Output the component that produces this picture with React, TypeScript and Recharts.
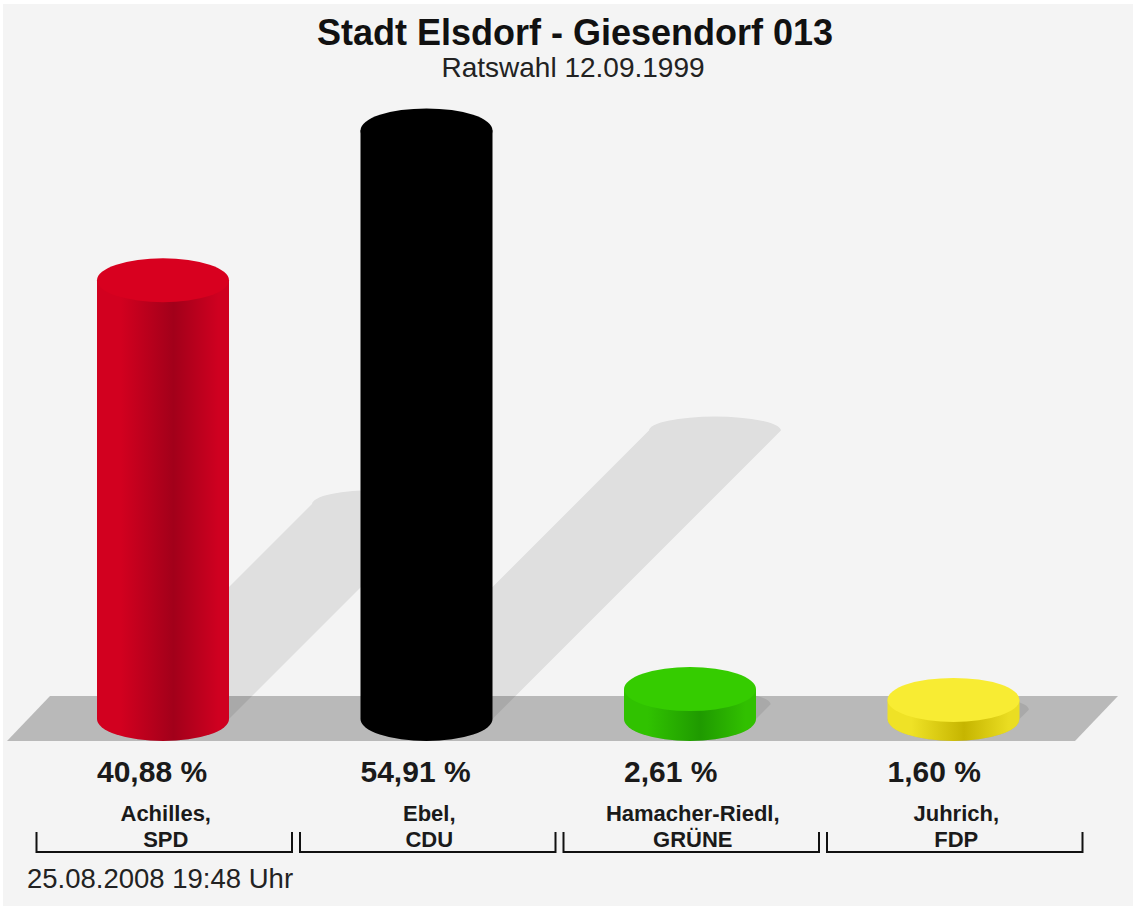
import React from "react";
import { BarChart, Bar, XAxis, YAxis } from "recharts";

const TITLE = "Stadt Elsdorf - Giesendorf 013";
const SUBTITLE = "Ratswahl 12.09.1999";
const FOOTER = "25.08.2008 19:48 Uhr";

const CANDIDATES = ["Achilles,", "Ebel,", "Hamacher-Riedl,", "Juhrich,"];
const PARTIES = ["SPD", "CDU", "GRÜNE", "FDP"];
const VALUES = [40.88, 54.91, 2.61, 1.6];
const VALUE_LABELS = ["40,88 %", "54,91 %", "2,61 %", "1,60 %"];

// [left, dark, right, top]
const COLORS = [
  ["#d2001f", "#a2001a", "#cf0020", "#d8001f"],
  ["#000000", "#000000", "#000000", "#000000"],
  ["#30c200", "#1f9a00", "#31c000", "#35cc00"],
  ["#efe226", "#c6b500", "#eadd22", "#f8ec33"],
];

const W = 1133;
const H = 906;
const MARGIN = { top: 76, right: 48, left: 31, bottom: 189 };
const PLOT_L = MARGIN.left;
const PLOT_R = W - MARGIN.right;
const BAND = (PLOT_R - PLOT_L) / CANDIDATES.length;
const FONT = "'Liberation Sans', Arial, Helvetica, sans-serif";

const data = CANDIDATES.map((c, i) => ({
  name: c,
  party: PARTIES[i],
  value: VALUES[i],
  label: VALUE_LABELS[i],
}));

function CylinderShape(props: any) {
  const { x, y, width: w, height: h, index } = props;
  const i = index ?? 0;
  const p = data[i];
  const c = COLORS[i];
  const base = y + h;
  const yb = base + 2;
  const yt = y;
  const rx = w / 2;
  const ry = 22;
  const cx = x + rx;
  const Ht = yb - yt;
  const D = 0.49 * Ht;
  const sry = 14;
  const shadow = `M ${x} ${yb} L ${x + D} ${yb - D} A ${rx} ${sry} 0 0 1 ${x + w + D} ${yb - D} L ${x + w} ${yb} A ${rx} ${ry} 0 0 1 ${x} ${yb} Z`;
  const body = `M ${x} ${yt} L ${x} ${yb} A ${rx} ${ry} 0 0 0 ${x + w} ${yb} L ${x + w} ${yt} Z`;
  const gid = `cyl-grad-${i}`;
  const bc = PLOT_L + BAND * i + BAND / 2;
  const half = BAND / 2 - 4;
  return (
    <g>
      <defs>
        <linearGradient id={gid} x1="0" y1="0" x2="1" y2="0">
          <stop offset="0%" stopColor={c[0]} />
          <stop offset="18%" stopColor={c[0]} />
          <stop offset="58%" stopColor={c[1]} />
          <stop offset="92%" stopColor={c[2]} />
          <stop offset="100%" stopColor={c[2]} />
        </linearGradient>
      </defs>
      {i === 0 && (
        <polygon
          points={`${PLOT_L + 19},${yb - 23} ${PLOT_R + 33},${yb - 23} ${PLOT_R - 10},${yb + 22} ${PLOT_L - 24},${yb + 22}`}
          fill="#b9b9b9"
        />
      )}
      <path d={shadow} fill="rgba(0,0,0,0.085)" />
      <path d={body} fill={`url(#${gid})`} />
      <ellipse cx={cx} cy={yt} rx={rx} ry={ry} fill={c[3]} />
      <text x={x} y={yb + 63} fontFamily={FONT} fontSize={30} fontWeight="bold" fill="#1a1a1a">
        {p.label}
      </text>
      <text x={bc + 3} y={yb + 102} textAnchor="middle" fontFamily={FONT} fontSize={22} fontWeight="bold" fill="#1a1a1a">
        {p.name}
      </text>
      <text x={bc + 3} y={yb + 128} textAnchor="middle" fontFamily={FONT} fontSize={22} fontWeight="bold" fill="#1a1a1a">
        {p.party}
      </text>
      <polyline
        points={`${bc + 1.5 - half},${yb + 113} ${bc + 1.5 - half},${yb + 133} ${bc + 1.5 + half},${yb + 133} ${bc + 1.5 + half},${yb + 113}`}
        fill="none"
        stroke="#111"
        strokeWidth={2}
      />
    </g>
  );
}

export default function App() {
  return (
    <div style={{ position: "absolute", left: 0, top: 0, width: W, height: H, background: "#ffffff" }}>
      <div style={{ position: "absolute", left: 3, top: 4, width: W - 3, height: H - 4, background: "#f4f4f4" }} />
      <div style={{ position: "absolute", left: 0, top: 0 }}>
        <BarChart width={W} height={H} data={data} margin={MARGIN} barSize={132}>
          <XAxis dataKey="name" hide />
          <YAxis type="number" domain={[0, 60]} hide />
          <Bar dataKey="value" isAnimationActive={false} shape={CylinderShape} />
        </BarChart>
      </div>
      <svg width={W} height={H} style={{ position: "absolute", left: 0, top: 0, pointerEvents: "none" }}>
        <text x={575} y={45} textAnchor="middle" fontFamily={FONT} fontSize={36} fontWeight="bold" fill="#111">
          {TITLE}
        </text>
        <text x={573} y={77} textAnchor="middle" fontFamily={FONT} fontSize={28} fill="#222">
          {SUBTITLE}
        </text>
        <text x={27} y={888} fontFamily={FONT} fontSize={27.5} fill="#222">
          {FOOTER}
        </text>
      </svg>
    </div>
  );
}
